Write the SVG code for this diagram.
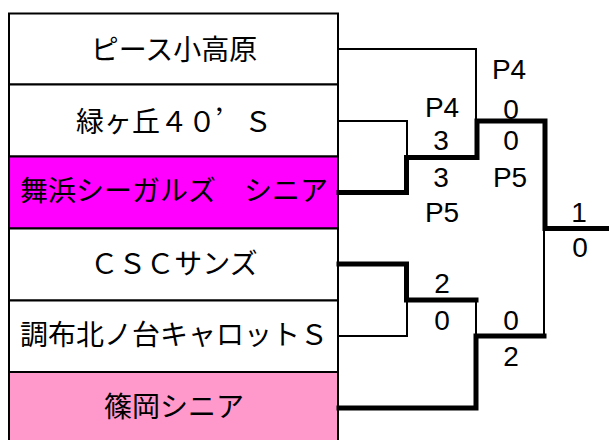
<svg xmlns="http://www.w3.org/2000/svg" width="609" height="440" viewBox="0 0 609 440">
<style>
.box{stroke:#000;stroke-width:2}
.name{font-family:"Noto Sans CJK JP","Noto Sans",sans-serif;font-size:28px;fill:#000;text-anchor:middle}
.sc{font-family:"Noto Sans CJK SC",sans-serif}
.score{font-family:"Liberation Sans",Arial,sans-serif;font-size:28px;fill:#000;text-anchor:middle}
.thin{fill:none;stroke:#000;stroke-width:2}
.thick{fill:none;stroke:#000;stroke-width:5;stroke-linejoin:miter;stroke-linecap:square}
</style>
<rect width="609" height="440" fill="#fff"/>
<g id="team1"><rect class="box" x="9" y="13.5" width="329" height="71" fill="#fff"/><text class="name" x="174" y="60">ピース小高原</text></g>
<g id="team2"><rect class="box" x="9" y="84.5" width="329" height="72" fill="#fff"/><text class="name" x="174" y="132">緑ヶ丘４０<tspan class="sc">’</tspan>Ｓ</text></g>
<g id="team3"><rect class="box" x="9" y="156.5" width="329" height="72" fill="#FF00FF"/><text class="name" x="174" y="201">舞浜シーガルズ　シニア</text></g>
<g id="team4"><rect class="box" x="9" y="228.5" width="329" height="72" fill="#fff"/><text class="name" x="174" y="274">ＣＳＣサンズ</text></g>
<g id="team5"><rect class="box" x="9" y="300.5" width="329" height="71.5" fill="#fff"/><text class="name" x="174" y="345">調布北ノ台キャロットＳ</text></g>
<g id="team6"><rect class="box" x="9" y="372" width="329" height="72" fill="#FF99CC"/><text class="name" x="174" y="417">篠岡シニア</text></g>
<g id="connectors">
<path class="thin" d="M338,49 H476 V121"/>
<path class="thin" d="M338,121 H407 V157"/>
<path class="thin" d="M338,336 H407 V300"/>
<path class="thin" d="M476,300 V336"/>
<path class="thin" d="M544,336 V228"/>
<path class="thick" d="M339,192.5 H406.5 V157.5 H477 V121 H545 V228.5 H612"/>
<path class="thick" d="M339,264 H406.5 V300 H476"/>
<path class="thick" d="M339,408 H476 V336 H544"/>
</g>
<g id="scores">
<text class="score" x="509" y="79">P4</text>
<text class="score" x="511" y="119">0</text>
<text class="score" x="442" y="117">P4</text>
<text class="score" x="441" y="150">3</text>
<text class="score" x="511" y="150">0</text>
<text class="score" x="441" y="187">3</text>
<text class="score" x="510" y="187">P5</text>
<text class="score" x="442" y="222">P5</text>
<text class="score" x="579" y="222">1</text>
<text class="score" x="580" y="257">0</text>
<text class="score" x="442" y="293">2</text>
<text class="score" x="442" y="330">0</text>
<text class="score" x="511" y="330">0</text>
<text class="score" x="511" y="366">2</text>
</g>
</svg>
